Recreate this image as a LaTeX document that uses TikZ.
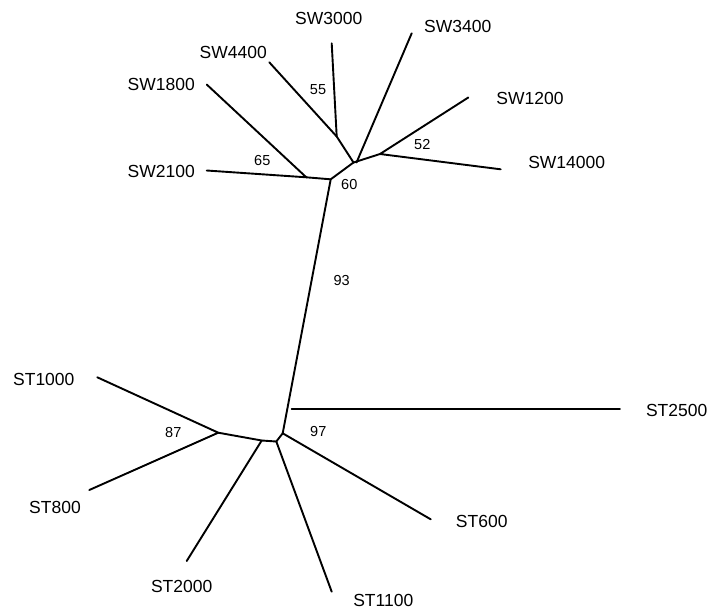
\documentclass[tikz,border=0pt]{standalone}
\usepackage{fontspec}
\setmainfont{Liberation Sans}
\begin{document}
\begin{tikzpicture}[x=1pt,y=-1pt,
  branch/.style={line width=1.9pt,line cap=round,line join=round,black},
  taxon/.style={font=\fontsize{17.5}{18}\selectfont,inner sep=0pt},
  boot/.style={font=\fontsize{14.5}{15}\selectfont,inner sep=0pt}]
\useasboundingbox[fill=white] (0,0) rectangle (714,611);
% internal nodes
\coordinate (A) at (336.7,136.5);
\coordinate (B) at (353.5,162.5);
\coordinate (C) at (380,154);
\coordinate (D) at (330.7,179.3);
\coordinate (E) at (306.3,177.3);
\coordinate (F) at (282.7,433.3);
\coordinate (G) at (276.3,441.5);
\coordinate (H) at (261.7,440.5);
\coordinate (I) at (218.3,432.7);
\coordinate (J) at (291.7,409.3);
% leaf ends
\coordinate (lSW3000) at (331.7,43.3);
\coordinate (lSW4400) at (269.3,62.3);
\coordinate (lSW3400) at (411.7,33.3);
\coordinate (lSW1200) at (468.3,97.5);
\coordinate (lSW14000) at (500.7,169.3);
\coordinate (lSW1800) at (206.7,84.5);
\coordinate (lSW2100) at (206.7,170.5);
\coordinate (lST1000) at (97.3,377.3);
\coordinate (lST800) at (89.3,490);
\coordinate (lST2000) at (186.7,561);
\coordinate (lST1100) at (331.7,591.7);
\coordinate (lST600) at (430.7,519.3);
\coordinate (lST2500) at (620,409.3);
% branches
\draw[branch] (lSW3000) -- (A);
\draw[branch] (lSW4400) -- (A) -- (B);
\draw[branch] (lSW3400) -- ([xshift=3pt]B);
\draw[branch] (lSW1200) -- (C) -- (lSW14000);
\draw[branch] (B) -- (C);
\draw[branch] (lSW1800) -- (E) -- (lSW2100);
\draw[branch] (E) -- (D) -- (B);
\draw[branch] (D) -- (F);
\draw[branch] (J) -- (lST2500);
\draw[branch] (F) -- (lST600);
\draw[branch] (F) -- (G) -- (H) -- (I);
\draw[branch] (G) -- (lST1100);
\draw[branch] (H) -- (lST2000);
\draw[branch] (lST1000) -- (I) -- (lST800);
% taxon labels
\node[taxon] (tSW3000) at (328.7,18.3) {SW3000};
\node[taxon] (tSW3400) at (457.8,26.7) {SW3400};
\node[taxon] (tSW4400) at (233.3,52) {SW4400};
\node[taxon,anchor=east] (tSW1800) at (195,84) {SW1800};
\node[taxon,anchor=east] (tSW2100) at (195,171) {SW2100};
\node[taxon] (tSW1200) at (530,98) {SW1200};
\node[taxon] (tSW14000) at (566.7,162) {SW14000};
\node[taxon] (tST1000) at (43.8,379) {ST1000};
\node[taxon] (tST800) at (55,507) {ST800};
\node[taxon] (tST2000) at (181.7,586.7) {ST2000};
\node[taxon] (tST1100) at (383.3,600.7) {ST1100};
\node[taxon] (tST600) at (481.7,521.7) {ST600};
\node[taxon] (tST2500) at (676.7,410) {ST2500};
% bootstrap values
\node[boot] (b55) at (318,90) {55};
\node[boot] (b52) at (422.3,145) {52};
\node[boot] (b65) at (262.3,160.7) {65};
\node[boot] (b60) at (349.3,185) {60};
\node[boot] (b93) at (341.7,280.7) {93};
\node[boot] (b87) at (173.3,432.7) {87};
\node[boot] (b97) at (318.3,431.7) {97};
\end{tikzpicture}
\end{document}
